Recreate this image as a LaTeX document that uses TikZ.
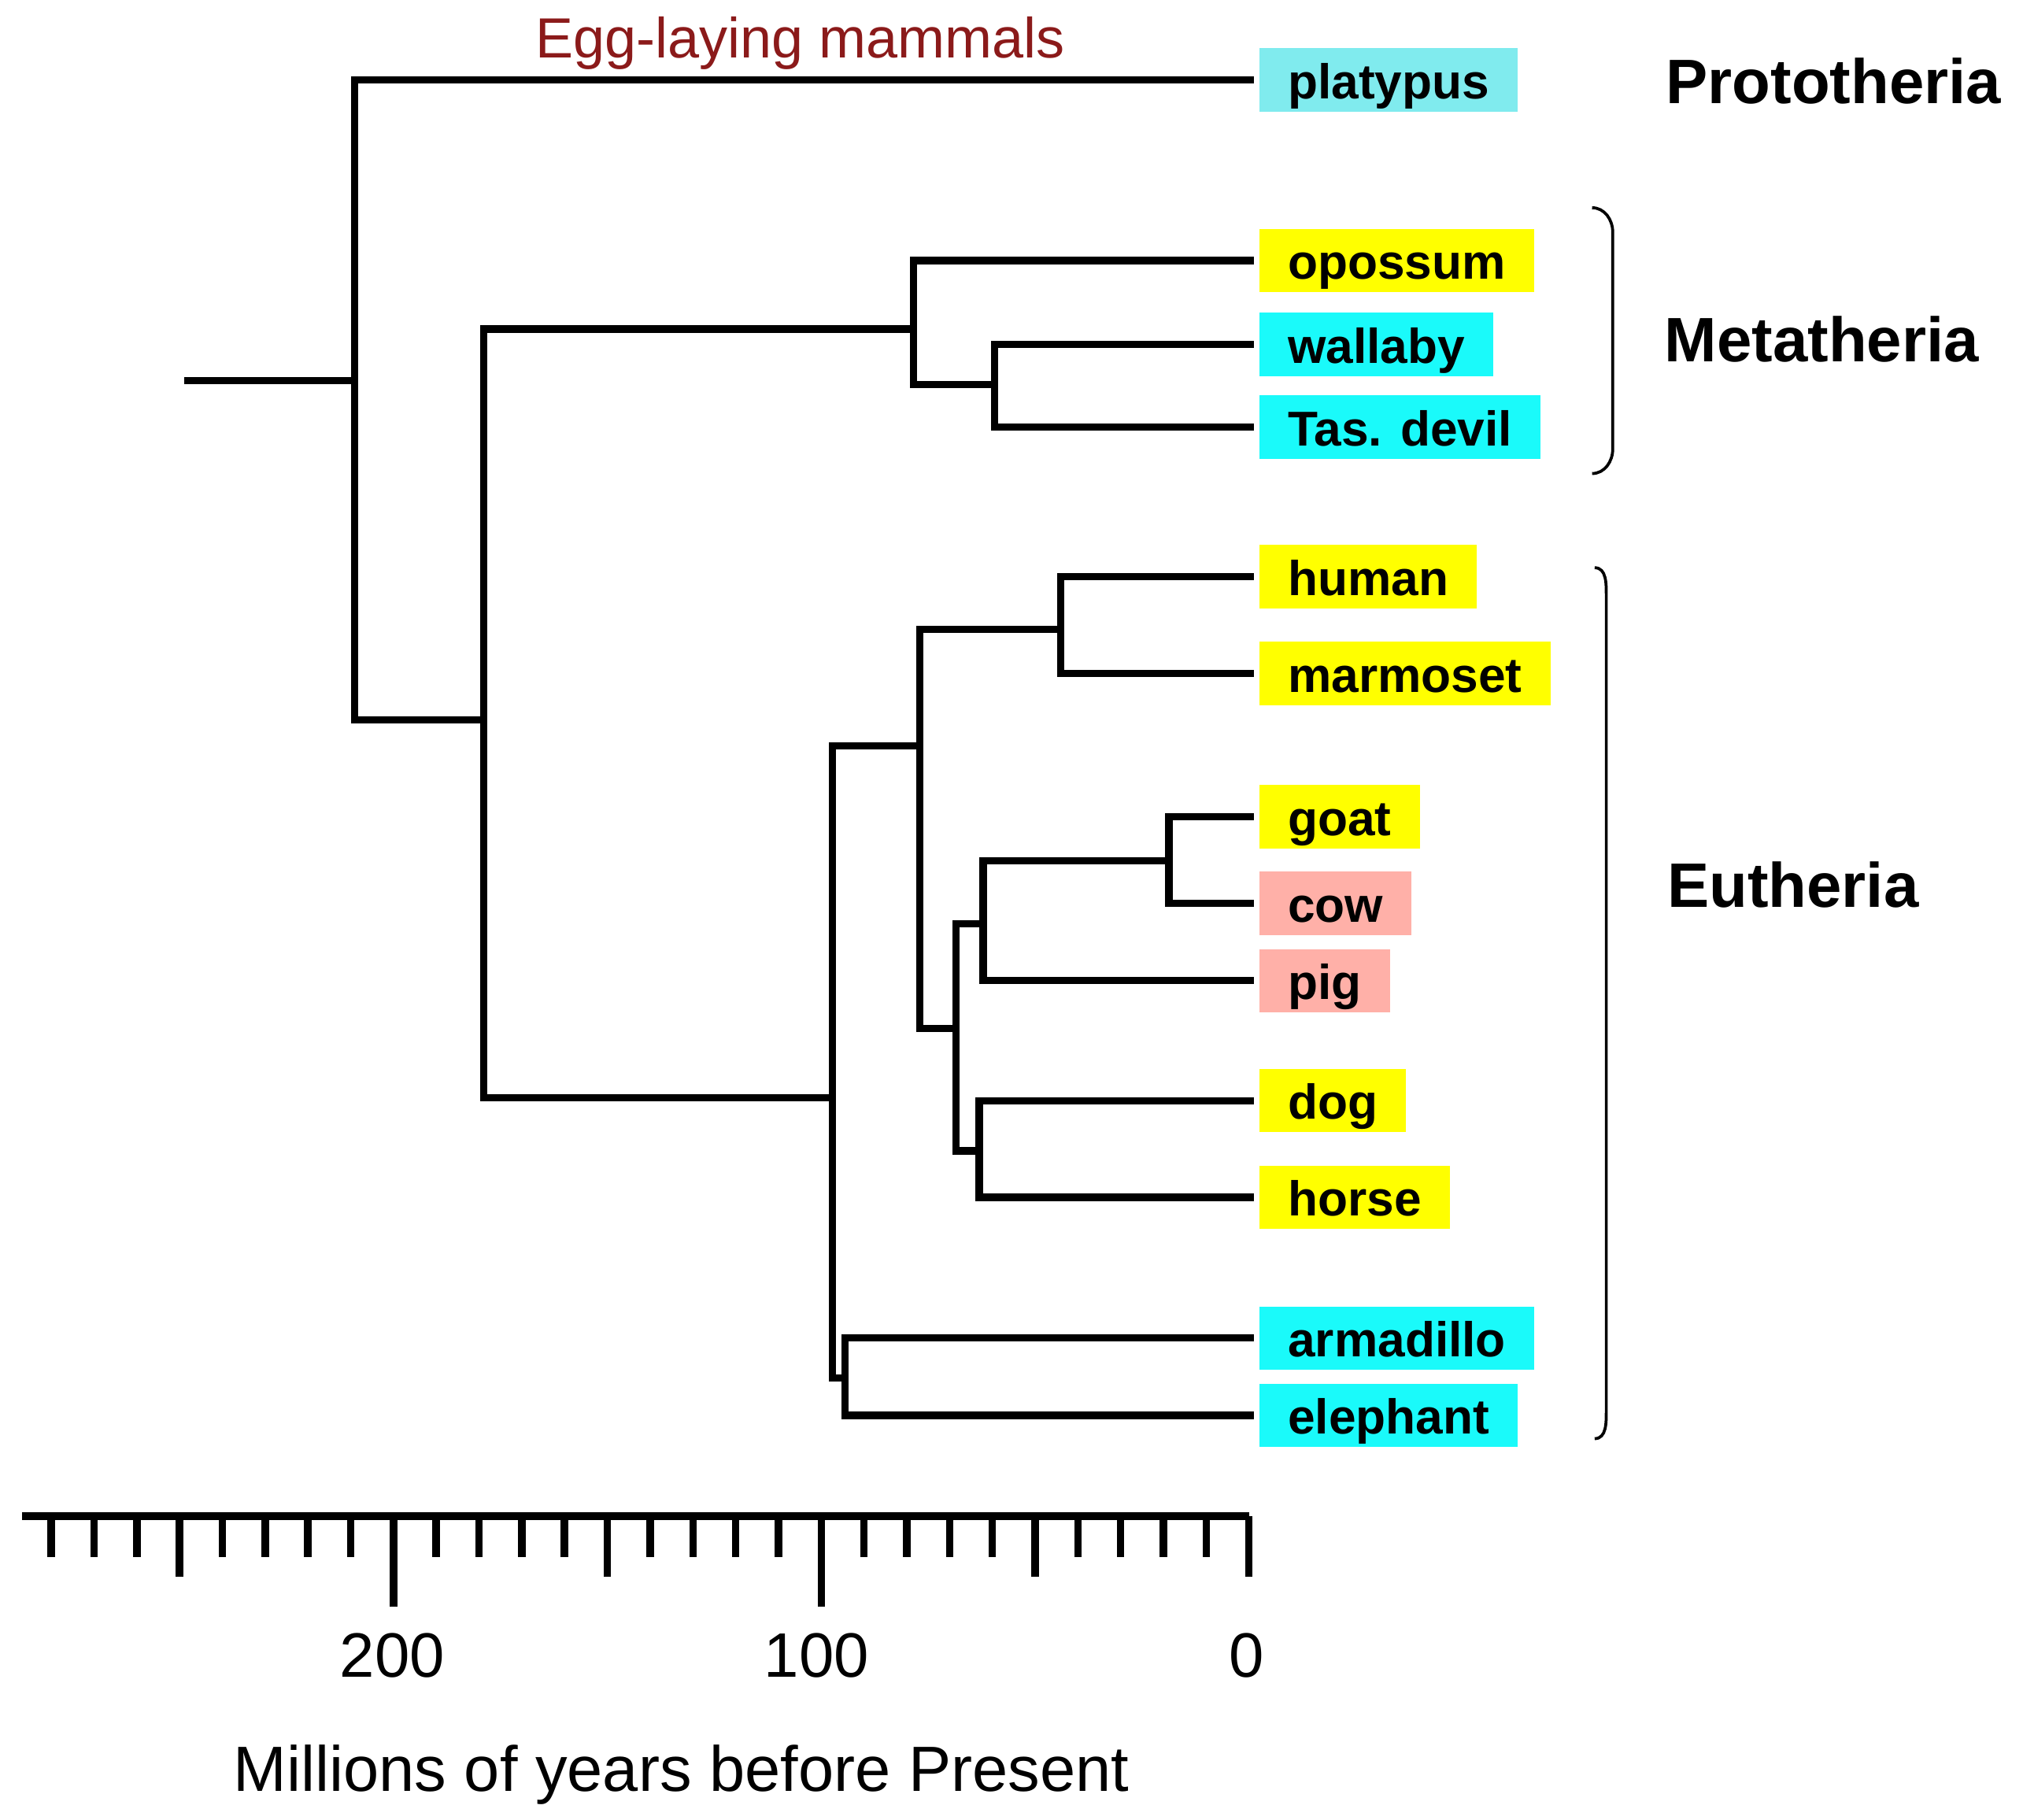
\documentclass[tikz,border=0pt]{standalone}
\usepackage{fontspec}
\setmainfont{Liberation Sans}
\usepackage{tikz}
\usetikzlibrary{calc}
\definecolor{monocyan}{RGB}{128,235,238}
\definecolor{taxcyan}{RGB}{26,250,250}
\definecolor{taxyellow}{RGB}{255,255,0}
\definecolor{taxpink}{RGB}{255,176,168}
\definecolor{eggred}{RGB}{139,26,26}
\newcommand{\taxon}[4] % node name, y in px, label, fill colour
{
	% coloured box at the tip of a branch
	\node[taxon, fill=#4] (#1) at (976,#2) {#3};
}

\begin{document}
\begin{tikzpicture}[x=0.02cm, y=-0.02cm,
	branch/.style={line width=3.2pt},
	twig/.style={line width=3.2pt, shorten >=0.08cm},
	taxon/.style={anchor=west, inner xsep=0.44cm, inner ysep=3.2pt, text height=19pt, text depth=2.5pt, font=\bfseries\fontsize{21.6}{26}\selectfont},
	group/.style={anchor=west, inner sep=0pt, font=\bfseries\fontsize{27.7}{33}\selectfont},
	brace/.style={line width=1.3pt},
	axis/.style={line width=3.5pt},
	tick/.style={line width=3.3pt},
	scalenum/.style={anchor=base, inner sep=0pt, font=\fontsize{27.7}{33}\selectfont}]
	% 1568 x 1410 px, y downwards
	\useasboundingbox (0,0) rectangle (1568,1410);
	% tips
	\taxon{platypus}{62}{platypus}{monocyan}
	\taxon{opossum}{202}{opossum}{taxyellow}
	\taxon{wallaby}{267}{wallaby}{taxcyan}
	\taxon{tasdevil}{331}{Tas. devil}{taxcyan}
	\taxon{human}{447}{human}{taxyellow}
	\taxon{marmoset}{522}{marmoset}{taxyellow}
	\taxon{goat}{633}{goat}{taxyellow}
	\taxon{cow}{700}{cow}{taxpink}
	\taxon{pig}{760}{pig}{taxpink}
	\taxon{dog}{853}{dog}{taxyellow}
	\taxon{horse}{928}{horse}{taxyellow}
	\taxon{armadillo}{1037}{armadillo}{taxcyan}
	\taxon{elephant}{1097}{elephant}{taxcyan}
	% inner nodes
	\coordinate (root) at (143,295);
	\coordinate (mam) at (275,295);
	\coordinate (ther) at (375,558);
	\coordinate (mars) at (708,255);
	\coordinate (aus) at (771,298);
	\coordinate (euth) at (645,851);
	\coordinate (bor) at (713,578);
	\coordinate (prim) at (822,488);
	\coordinate (laur) at (741,797);
	\coordinate (cet) at (762,716);
	\coordinate (rum) at (906,667);
	\coordinate (peri) at (759,892);
	\coordinate (atl) at (655,1068);
	% tree
	\draw[branch] (root) -- (mam);
	\draw[twig] (mam) |- (platypus.west);
	\draw[branch] (mam) |- (ther);
	\draw[branch] (ther) |- (mars);
	\draw[branch] (ther) |- (euth);
	\draw[twig] (mars) |- (opossum.west);
	\draw[branch] (mars) |- (aus);
	\draw[twig] (aus) |- (wallaby.west);
	\draw[twig] (aus) |- (tasdevil.west);
	\draw[branch] (euth) |- (bor);
	\draw[branch] (euth) |- (atl);
	\draw[branch] (bor) |- (prim);
	\draw[branch] (bor) |- (laur);
	\draw[twig] (prim) |- (human.west);
	\draw[twig] (prim) |- (marmoset.west);
	\draw[branch] (laur) |- (cet);
	\draw[branch] (laur) |- (peri);
	\draw[branch] (cet) |- (rum);
	\draw[twig] (cet) |- (pig.west);
	\draw[twig] (rum) |- (goat.west);
	\draw[twig] (rum) |- (cow.west);
	\draw[twig] (peri) |- (dog.west);
	\draw[twig] (peri) |- (horse.west);
	\draw[twig] (atl) |- (armadillo.west);
	\draw[twig] (atl) |- (elephant.west);
	% groups
	\node[anchor=base, inner sep=0pt, text=eggred, font=\fontsize{25}{30}\selectfont] (egg) at (620,45) {Egg-laying mammals};
	\node[group] (proto) at (1291,63) {Prototheria};
	\node[group] (meta) at (1290,263) {Metatheria};
	\node[group] (eu) at (1292,686) {Eutheria};
	\draw[brace] (1234,161) to[out=0,in=90] (1250,180) -- (1250,348) to[out=-90,in=0] (1234,367);
	\draw[brace] (1236,440) to[out=0,in=90] (1245,462) -- (1245,1093) to[out=-90,in=0] (1236,1115);
	% time scale, 10 My per tick
	\draw[axis] (17,1175) -- (968,1175);
	\foreach \i in {0,...,28}
		\draw[tick] ({968-\i*33.15},1175) -- ++(0,32);
	\foreach \i in {0,5,15,25}
		\draw[tick] ({968-\i*33.15},1175) -- ++(0,47);
	\foreach \i in {10,20}
		\draw[tick] ({968-\i*33.15},1175) -- ++(0,70);
	\node[scalenum] (t200) at (304,1300) {200};
	\node[scalenum] (t100) at (633,1300) {100};
	\node[scalenum] (t0) at (966,1300) {0};
	\node[scalenum, font=\fontsize{28.2}{34}\selectfont] (mya) at (528,1388) {Millions of years before Present};
\end{tikzpicture}
\end{document}
